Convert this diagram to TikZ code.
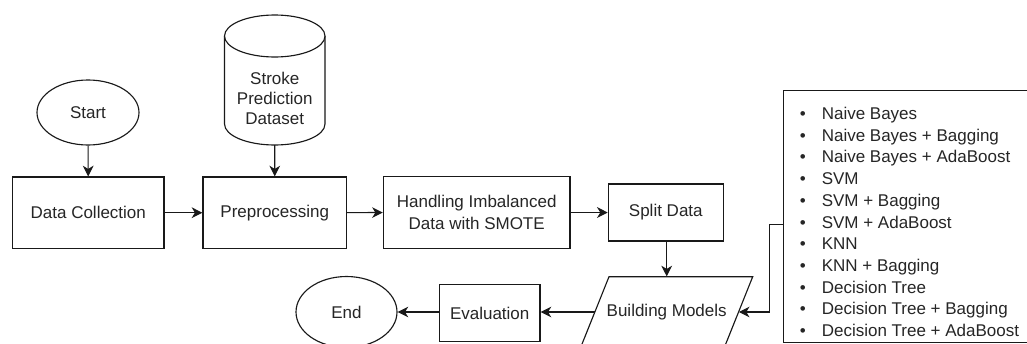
\documentclass[tikz,border=0pt]{standalone}
\usepackage{fontspec}
\setmainfont{Liberation Sans}
\usetikzlibrary{arrows.meta,calc,shapes.geometric}
\begin{document}
\begin{tikzpicture}[x=0.75pt,y=-0.75pt,
  every node/.style={font=\fontsize{12.75pt}{15.3pt}\selectfont, text=black!85},
  line/.style={draw=black!90, line width=0.85pt},
  box/.style={line, rectangle, inner sep=0pt, align=center, fill=white},
  oval/.style={line, ellipse, inner sep=0pt, fill=white},
  plain/.style={inner sep=0pt, align=center},
  conn/.style={line, -{Stealth[length=8pt,width=8pt,inset=2.4pt]}}
]
\useasboundingbox (0,0) rectangle (1027,343);
\clip (0,0) rectangle (1027,343);

% top row
\node[oval, minimum width=76.5pt, minimum height=48.75pt] (start) at (88,112.5) {Start};
\node[box, minimum width=113.5pt, minimum height=53.6pt] (collect) at (88.3,212.7) {Data Collection};
\node[box, minimum width=107.8pt, minimum height=53.6pt] (prep) at (274.8,212.7) {Preprocessing};
\node[box, minimum width=140pt, minimum height=54.4pt, font=\fontsize{12.75pt}{16.2pt}\selectfont] (smote) at (476.7,212.4) {Handling Imbalanced\\Data with SMOTE};
\node[box, minimum width=86.25pt, minimum height=42.75pt] (split) at (665.8,212.5) {Split Data};

% cylinder (dataset)
\filldraw[line, fill=white] (224.5,36) -- (224.5,124) arc[start angle=180, end angle=0, x radius=50.25, y radius=21] -- (325,36);
\draw[line, fill=white] (274.75,36) ellipse[x radius=50.25, y radius=21];
\node[plain, minimum width=75.4pt, minimum height=97.5pt, font=\fontsize{12.75pt}{15pt}\selectfont] (data) at (274.75,98) {Stroke\\Prediction\\Dataset};
\coordinate (datab) at (274.75,145);

% bottom row
\draw[line, fill=white] (609,276.7) -- (752.7,276.7) -- (724.4,347.3) -- (580.7,347.3) -- cycle;
\node[plain, minimum width=107.8pt, minimum height=53pt] (build) at (666.7,312) {Building Models};
\node[box, minimum width=75.5pt, minimum height=43pt] (eval) at (489.7,313) {Evaluation};
\node[oval, minimum width=75.75pt, minimum height=53.25pt] (end) at (346.5,312) {End};

% model list
\node[box, anchor=north west, minimum width=192pt, minimum height=188.8pt] (models) at (783.3,90) {};
\node[inner sep=0pt, anchor=north west, align=left, font=\fontsize{12.75pt}{16.3pt}\selectfont] (items) at (799.5,103.9) {%
\strut\makebox[16.5pt][l]{•}Naive Bayes\\
\strut\makebox[16.5pt][l]{•}Naive Bayes + Bagging\\
\strut\makebox[16.5pt][l]{•}Naive Bayes + AdaBoost\\
\strut\makebox[16.5pt][l]{•}SVM\\
\strut\makebox[16.5pt][l]{•}SVM + Bagging\\
\strut\makebox[16.5pt][l]{•}SVM + AdaBoost\\
\strut\makebox[16.5pt][l]{•}KNN\\
\strut\makebox[16.5pt][l]{•}KNN + Bagging\\
\strut\makebox[16.5pt][l]{•}Decision Tree\\
\strut\makebox[16.5pt][l]{•}Decision Tree + Bagging\\
\strut\makebox[16.5pt][l]{•}Decision Tree + AdaBoost};

% connectors
\draw[conn] (start) -- (collect);
\draw[conn] (datab) -- (prep);
\draw[conn] (collect) -- (prep);
\draw[conn] (prep) -- (smote);
\draw[conn] (smote.east |- split.west) -- (split.west);
\draw[conn] (split.south -| build.north) -- (build.north);
\draw[conn] ($(models.west)+(0,8.2)$) -- ++(-14,0) |- (build.east);
\draw[conn] (build.west) -- (eval.east |- build.west);
\draw[conn] (eval.west |- end.east) -- (end.east);
\end{tikzpicture}
\end{document}
